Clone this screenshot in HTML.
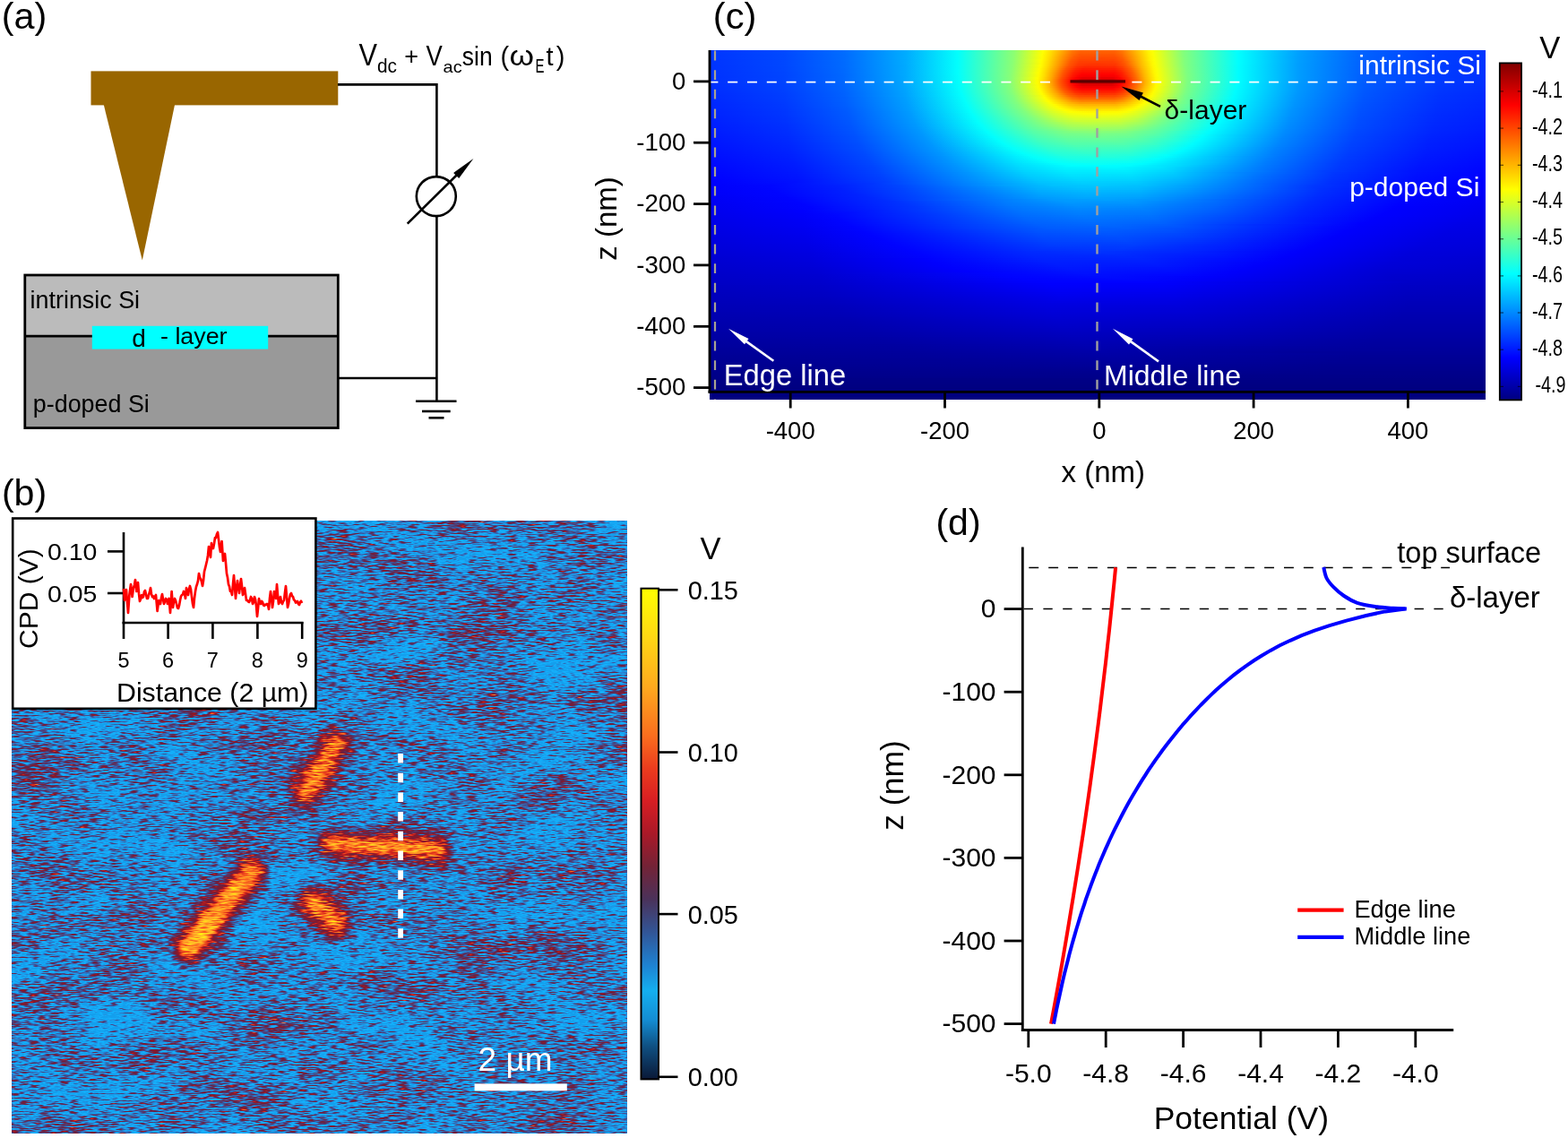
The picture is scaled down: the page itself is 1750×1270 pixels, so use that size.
<!DOCTYPE html>
<html><head><meta charset="utf-8"><title>Figure</title>
<style>
html,body{margin:0;padding:0;background:#fff}
body{width:1750px;height:1270px;position:relative;overflow:hidden;font-family:"Liberation Sans",Arial,sans-serif}
#hm{position:absolute;left:792px;top:56px;width:866px;height:390px}
#hm div{width:100%}
svg{position:absolute;left:0;top:0}
text{font-family:"Liberation Sans",Arial,sans-serif}
</style></head><body>
<div id="hm"><div style="height:2px;background:linear-gradient(90deg,#0036ff 0px,#0049ff 83px,#006dff 151px,#00acff 219px,#03fffc 277px,#8cff73 340px,#ffff00 372px,#ffde00 381px,#ff7700 405px,#ff6400 414px,#ff6400 452px,#ff7900 461px,#fff400 490px,#fdff02 494px,#85ff7a 528px,#02fffd 589px,#009fff 658px,#0061ff 731px,#003fff 814px,#0036ff 865px)"></div><div style="height:2px;background:linear-gradient(90deg,#0036ff 0px,#0049ff 83px,#006dff 151px,#00acff 219px,#03fffc 277px,#8dff72 340px,#fffe00 372px,#ffda00 381px,#ff7000 405px,#ff5c00 414px,#ff5d00 452px,#ff7200 461px,#fff200 490px,#fbff04 495px,#83ff7c 529px,#02fffd 589px,#009fff 658px,#0061ff 731px,#003fff 814px,#0036ff 865px)"></div><div style="height:2px;background:linear-gradient(90deg,#0035ff 0px,#0048ff 83px,#006cff 151px,#00acff 219px,#03fffc 277px,#8eff71 340px,#feff01 371px,#ffe100 379px,#ff6d00 404px,#ff5600 413px,#ff5500 451px,#ff6800 460px,#ff9900 471px,#fff400 491px,#fcff03 495px,#83ff7c 529px,#00ffff 590px,#00a0ff 657px,#0061ff 731px,#003eff 814px,#0035ff 865px)"></div><div style="height:2px;background:linear-gradient(90deg,#0035ff 0px,#0048ff 83px,#006cff 151px,#00acff 219px,#03fffc 277px,#8bff74 339px,#fffe00 371px,#ffde00 379px,#ff8b00 396px,#ff5c00 407px,#ff4f00 415px,#ff5000 452px,#ff6200 460px,#ff9300 471px,#fff200 491px,#faff05 496px,#83ff7c 529px,#00ffff 590px,#00a0ff 656px,#0060ff 731px,#003eff 814px,#0035ff 865px)"></div><div style="height:2px;background:linear-gradient(90deg,#0035ff 0px,#0048ff 83px,#006bff 150px,#00acff 219px,#02fffd 277px,#8cff73 339px,#fffd00 371px,#ffdb00 379px,#ff9500 393px,#ff6000 404px,#ff4c00 412px,#ff4700 437px,#ff4b00 453px,#ff5e00 461px,#ff9900 473px,#fff400 492px,#fcff03 496px,#82ff7d 530px,#00ffff 590px,#00a0ff 656px,#0060ff 731px,#003eff 814px,#0035ff 865px)"></div><div style="height:2px;background:linear-gradient(90deg,#0034ff 0px,#0047ff 83px,#006bff 150px,#00abff 219px,#02fffd 277px,#8cff73 339px,#ffff00 370px,#ffe300 377px,#ff9600 392px,#ff5900 404px,#ff4500 413px,#ff4400 451px,#ff5800 461px,#ff9400 473px,#fff000 491px,#fdff02 496px,#82ff7d 530px,#00ffff 590px,#009fff 657px,#0060ff 731px,#003dff 814px,#0034ff 865px)"></div><div style="height:2px;background:linear-gradient(90deg,#0034ff 0px,#0047ff 83px,#006aff 150px,#00abff 219px,#02fffd 277px,#89ff76 338px,#fffe00 370px,#ffdb00 378px,#ff9700 391px,#ff5700 403px,#ff3f00 413px,#ff3d00 450px,#ff4d00 459px,#ff6800 466px,#ffbb00 481px,#fff500 493px,#fbff04 497px,#82ff7d 530px,#00ffff 590px,#009fff 657px,#005fff 731px,#003dff 814px,#0034ff 865px)"></div><div style="height:2px;background:linear-gradient(90deg,#0034ff 0px,#0047ff 83px,#006aff 150px,#00aaff 218px,#02fffd 277px,#8aff75 338px,#fffc00 370px,#ffde00 377px,#ff9900 390px,#ff5600 402px,#ff3b00 412px,#ff3600 431px,#ff3a00 453px,#ff5500 463px,#ff9000 474px,#ffbd00 482px,#fff700 494px,#fcff03 497px,#82ff7d 530px,#00ffff 590px,#009eff 657px,#005fff 731px,#003dff 814px,#0034ff 865px)"></div><div style="height:2px;background:linear-gradient(90deg,#0033ff 0px,#0047ff 83px,#006aff 150px,#00a9ff 218px,#02fffd 277px,#8bff74 338px,#ffff00 369px,#ffe100 376px,#ff9a00 389px,#ff5500 401px,#ff3700 411px,#ff3000 422px,#ff3300 452px,#ff4c00 462px,#ff6d00 469px,#ffba00 482px,#fff600 494px,#f9ff06 498px,#80ff7f 531px,#00feff 590px,#009eff 657px,#005fff 731px,#003cff 814px,#0033ff 865px)"></div><div style="height:2px;background:linear-gradient(90deg,#0033ff 0px,#0046ff 83px,#006aff 150px,#00a9ff 218px,#02fffd 277px,#88ff77 337px,#fffd00 369px,#ffdd00 376px,#ff9900 388px,#ff5500 399px,#ff2e00 410px,#ff2500 419px,#ff2800 452px,#ff3f00 461px,#ff6300 469px,#ffb500 482px,#fff700 495px,#fbff04 498px,#81ff7e 531px,#00feff 590px,#009eff 657px,#005eff 731px,#003cff 814px,#0033ff 865px)"></div><div style="height:2px;background:linear-gradient(90deg,#0033ff 0px,#0046ff 83px,#0069ff 150px,#00a9ff 218px,#02fffd 277px,#89ff76 337px,#fffe00 368px,#ffde00 375px,#ffa000 386px,#ff5200 398px,#ff2700 409px,#ff1b00 417px,#ff1e00 452px,#ff3600 461px,#ff6000 470px,#ffb600 483px,#fff500 495px,#faff05 499px,#7fff80 532px,#00feff 590px,#009eff 657px,#005eff 731px,#003cff 814px,#0033ff 865px)"></div><div style="height:2px;background:linear-gradient(90deg,#0032ff 0px,#0046ff 83px,#0069ff 150px,#00a9ff 218px,#02fffd 277px,#8aff75 337px,#fffd00 368px,#ffe000 374px,#ffa100 385px,#ff5500 396px,#ff2000 408px,#ff1200 416px,#ff1500 452px,#ff2600 459px,#ff5f00 471px,#ffb700 484px,#fff700 496px,#fbff04 499px,#7fff80 532px,#00feff 590px,#009dff 657px,#005eff 731px,#003bff 814px,#0032ff 865px)"></div><div style="height:2px;background:linear-gradient(90deg,#0032ff 0px,#0045ff 83px,#0069ff 150px,#00a9ff 218px,#02fffd 277px,#87ff78 336px,#ffff00 367px,#ffdd00 374px,#ff9b00 385px,#ff5500 395px,#ff1b00 407px,#ff0a00 416px,#ff0c00 452px,#ff2100 460px,#ff5e00 472px,#ffb400 484px,#fff600 496px,#f9ff06 500px,#7fff80 532px,#00feff 590px,#009dff 657px,#005eff 731px,#003bff 814px,#0032ff 865px)"></div><div style="height:2px;background:linear-gradient(90deg,#0032ff 0px,#0045ff 83px,#0068ff 150px,#00a9ff 218px,#02fffd 277px,#88ff77 336px,#fffd00 367px,#ffe100 373px,#ff9e00 384px,#ff5500 394px,#ff1800 406px,#ff0200 415px,#ff0300 451px,#ff1a00 460px,#ff5f00 473px,#ffb600 485px,#fff800 497px,#faff05 500px,#80ff7f 532px,#00feff 590px,#009dff 657px,#005dff 731px,#003bff 814px,#0032ff 865px)"></div><div style="height:2px;background:linear-gradient(90deg,#0031ff 0px,#0044ff 82px,#0067ff 149px,#00a7ff 217px,#03fffc 278px,#89ff76 336px,#fffc00 367px,#ffd900 374px,#ffa100 383px,#ff5000 394px,#ff1600 405px,#fe0000 412px,#f70000 420px,#f90000 451px,#ff0300 455px,#ff2600 464px,#ff6800 475px,#ffb300 485px,#fff700 497px,#fbff04 500px,#7eff81 533px,#00feff 590px,#009dff 657px,#005dff 731px,#003aff 814px,#0031ff 865px)"></div><div style="height:2px;background:linear-gradient(90deg,#0031ff 0px,#0044ff 82px,#0067ff 149px,#00a7ff 217px,#03fffc 278px,#85ff7a 335px,#ffff00 366px,#ffe100 372px,#ffa400 382px,#ff5000 393px,#ff1200 404px,#fc0000 409px,#e80000 416px,#e90000 450px,#ff0300 458px,#ff2f00 467px,#ff6900 476px,#ffb600 486px,#fff900 498px,#f5ff0a 502px,#7eff81 533px,#00feff 590px,#009dff 657px,#005dff 731px,#003aff 814px,#0031ff 865px)"></div><div style="height:2px;background:linear-gradient(90deg,#0031ff 0px,#0044ff 82px,#0067ff 149px,#00a7ff 217px,#03fffc 278px,#86ff79 335px,#fffd00 366px,#ffd900 373px,#ffa700 381px,#ff5100 392px,#ff0f00 403px,#ff0100 406px,#d50000 415px,#d00000 425px,#d40000 450px,#fe0000 459px,#ff2f00 468px,#ff6b00 477px,#ffb300 486px,#fff800 498px,#faff05 501px,#7eff81 533px,#00feff 590px,#009cff 657px,#005cff 731px,#003aff 814px,#0031ff 865px)"></div><div style="height:2px;background:linear-gradient(90deg,#0030ff 0px,#0043ff 82px,#0066ff 149px,#00a6ff 217px,#03fffc 278px,#86ff79 335px,#fffd00 366px,#ffd800 373px,#ffa600 381px,#ff5000 392px,#ff0d00 403px,#fd0000 406px,#c00000 416px,#b90000 417px,#b80000 448px,#ff0100 460px,#ff3400 469px,#ff7200 478px,#ffb800 487px,#fff800 498px,#faff05 501px,#7eff81 533px,#00ffff 589px,#009cff 657px,#005cff 731px,#0039ff 814px,#0030ff 865px)"></div><div style="height:2px;background:linear-gradient(90deg,#0030ff 0px,#0043ff 82px,#0066ff 149px,#00a5ff 217px,#02fffd 278px,#85ff7a 335px,#fffe00 366px,#ffda00 373px,#ffa800 381px,#ff5200 392px,#ff1000 403px,#ff0100 406px,#cf0000 416px,#ce0000 449px,#fe0000 459px,#ff2f00 468px,#ff6c00 477px,#ffb900 487px,#fff900 498px,#f9ff06 501px,#7dff82 533px,#00feff 589px,#009bff 657px,#005bff 731px,#0039ff 814px,#0030ff 865px)"></div><div style="height:2px;background:linear-gradient(90deg,#002fff 0px,#0042ff 82px,#0065ff 149px,#00a5ff 217px,#03fffc 279px,#84ff7b 335px,#fffc00 367px,#ffb800 379px,#ff5000 393px,#ff1500 403px,#fd0000 408px,#e20000 415px,#e00000 449px,#f20000 455px,#ff0000 458px,#ff3400 468px,#ff7000 477px,#ffb600 486px,#fffa00 498px,#f4ff0b 502px,#7cff83 533px,#00fdff 589px,#009aff 657px,#005aff 731px,#0038ff 814px,#002fff 865px)"></div><div style="height:2px;background:linear-gradient(90deg,#002eff 0px,#0041ff 82px,#0064ff 149px,#00a4ff 217px,#02fffd 279px,#82ff7d 335px,#fffe00 367px,#ffce00 376px,#ffa100 383px,#ff5500 393px,#ff1800 404px,#ff0000 410px,#f10000 417px,#f30000 451px,#ff0200 456px,#ff2900 465px,#ff6e00 476px,#ffba00 486px,#fffd00 498px,#7bff84 533px,#00feff 588px,#0099ff 657px,#005aff 731px,#0037ff 814px,#002eff 865px)"></div><div style="height:2px;background:linear-gradient(90deg,#002dff 0px,#0041ff 83px,#0064ff 150px,#00a4ff 218px,#03fffc 280px,#84ff7b 336px,#fffd00 368px,#ffb600 381px,#ff5700 394px,#ff1d00 405px,#ff0400 414px,#ff0200 450px,#ff1500 458px,#ff3900 466px,#ff6f00 475px,#ffb900 485px,#fffc00 497px,#d7ff28 508px,#79ff86 533px,#00fdff 588px,#0099ff 657px,#0059ff 731px,#0036ff 814px,#002dff 865px)"></div><div style="height:2px;background:linear-gradient(90deg,#002dff 0px,#0040ff 83px,#0063ff 150px,#00a3ff 218px,#02fffd 280px,#82ff7d 336px,#fffd00 369px,#ffa900 384px,#ff5b00 395px,#ff2200 407px,#ff1100 416px,#ff1300 452px,#ff2800 460px,#ff6500 472px,#ffba00 484px,#fffb00 496px,#efff10 501px,#7aff85 532px,#00fdff 587px,#0098ff 657px,#0058ff 731px,#0036ff 814px,#002dff 865px)"></div><div style="height:2px;background:linear-gradient(90deg,#002cff 0px,#003fff 83px,#0062ff 150px,#00a2ff 218px,#03fffc 281px,#83ff7c 337px,#fffd00 370px,#ffa500 386px,#ff5c00 397px,#ff2e00 408px,#ff2000 416px,#ff2200 452px,#ff3b00 461px,#ff6b00 471px,#ffbc00 483px,#fffc00 495px,#e0ff1f 504px,#78ff87 532px,#00feff 586px,#0098ff 656px,#0057ff 731px,#0035ff 814px,#002cff 865px)"></div><div style="height:2px;background:linear-gradient(90deg,#002bff 0px,#003eff 83px,#0061ff 150px,#00a1ff 218px,#01fffe 281px,#83ff7c 338px,#fffe00 371px,#ffab00 387px,#ff6000 399px,#ff3a00 410px,#ff3100 419px,#ff3400 452px,#ff4b00 461px,#ff6f00 469px,#ffbf00 482px,#fffd00 494px,#78ff87 531px,#00fdff 586px,#0097ff 656px,#0056ff 731px,#0034ff 814px,#002bff 865px)"></div><div style="height:2px;background:linear-gradient(90deg,#002aff 0px,#003dff 83px,#0061ff 150px,#00a2ff 219px,#02fffd 282px,#80ff7f 338px,#fffc00 373px,#ffa500 390px,#ff6300 402px,#ff4800 412px,#ff4300 432px,#ff4800 453px,#ff6100 463px,#ffa900 476px,#fffe00 493px,#78ff87 530px,#00fdff 585px,#0097ff 655px,#0056ff 730px,#0033ff 813px,#002aff 865px)"></div><div style="height:2px;background:linear-gradient(90deg,#002aff 0px,#003dff 83px,#0060ff 151px,#00a0ff 219px,#02fffd 283px,#80ff7f 339px,#ffff00 374px,#ff9e00 394px,#ff6c00 405px,#ff5900 413px,#ff5800 451px,#ff6700 459px,#ff9700 470px,#ffd800 483px,#fffd00 491px,#76ff89 530px,#00feff 584px,#0097ff 654px,#0055ff 730px,#0033ff 813px,#002aff 865px)"></div><div style="height:2px;background:linear-gradient(90deg,#0029ff 0px,#003cff 83px,#0060ff 151px,#009fff 219px,#03fffc 284px,#80ff7f 340px,#fffe00 376px,#ff8100 405px,#ff6e00 414px,#ff6e00 452px,#ff8300 461px,#fffd00 489px,#85ff7a 524px,#68ff97 535px,#00fcff 584px,#0095ff 655px,#0054ff 730px,#0032ff 813px,#0029ff 865px)"></div><div style="height:2px;background:linear-gradient(90deg,#0028ff 0px,#003bff 83px,#005fff 151px,#009fff 220px,#03fffc 285px,#7fff80 341px,#ffff00 378px,#ff9700 405px,#ff8400 415px,#ff8600 452px,#ff9c00 462px,#fff300 484px,#fdff02 488px,#75ff8a 528px,#00fcff 583px,#0095ff 654px,#0054ff 730px,#0031ff 813px,#0028ff 865px)"></div><div style="height:2px;background:linear-gradient(90deg,#0027ff 0px,#003aff 83px,#005eff 151px,#009eff 220px,#03fffc 286px,#81ff7e 343px,#fdff02 380px,#ffe700 387px,#ffb500 402px,#ff9d00 413px,#ff9d00 452px,#ffb700 464px,#ffe900 479px,#ffff00 485px,#7fff80 523px,#00fcff 582px,#0095ff 653px,#0053ff 729px,#0030ff 813px,#0027ff 865px)"></div><div style="height:2px;background:linear-gradient(90deg,#0026ff 0px,#0039ff 83px,#005eff 152px,#009eff 221px,#03fffc 287px,#7fff80 344px,#f5ff0a 380px,#fffb00 385px,#ffc500 402px,#ffb300 414px,#ffb400 453px,#ffcc00 466px,#ffff00 482px,#99ff66 514px,#75ff8a 525px,#00fcff 581px,#0094ff 653px,#0052ff 729px,#002fff 813px,#0026ff 865px)"></div><div style="height:2px;background:linear-gradient(90deg,#0026ff 0px,#0039ff 84px,#005dff 152px,#009dff 221px,#03fffc 288px,#81ff7e 346px,#edff12 380px,#fffc00 388px,#ffcf00 405px,#ffc300 418px,#ffc600 454px,#ffde00 467px,#feff01 479px,#abff54 507px,#74ff8b 524px,#00fcff 580px,#0094ff 652px,#0052ff 728px,#002fff 812px,#0026ff 865px)"></div><div style="height:2px;background:linear-gradient(90deg,#0025ff 0px,#0038ff 84px,#005cff 153px,#009dff 222px,#03fffc 289px,#81ff7e 348px,#e4ff1b 380px,#fffd00 392px,#ffda00 409px,#ffd400 428px,#ffd800 455px,#fff300 469px,#fbff04 476px,#b4ff4b 502px,#75ff8a 522px,#00fcff 579px,#0092ff 652px,#0051ff 728px,#002eff 812px,#0025ff 865px)"></div><div style="height:2px;background:linear-gradient(90deg,#0024ff 0px,#0037ff 84px,#005bff 153px,#009dff 223px,#02fffd 290px,#7eff81 349px,#dbff24 380px,#fffe00 397px,#ffe700 414px,#ffe900 454px,#fdff02 470px,#caff35 492px,#73ff8c 521px,#00feff 577px,#0093ff 650px,#0051ff 727px,#002eff 811px,#0024ff 865px)"></div><div style="height:2px;background:linear-gradient(90deg,#0023ff 0px,#0036ff 84px,#005aff 153px,#009bff 223px,#02fffd 291px,#81ff7e 352px,#d7ff28 382px,#fdff02 402px,#fff600 425px,#fffb00 457px,#f9ff06 466px,#ceff31 487px,#73ff8c 519px,#00fdff 576px,#0092ff 650px,#0050ff 727px,#002dff 811px,#0023ff 865px)"></div><div style="height:2px;background:linear-gradient(90deg,#0023ff 0px,#0036ff 84px,#005aff 154px,#009bff 224px,#03fffc 293px,#81ff7e 354px,#ceff31 382px,#f2ff0d 402px,#fcff03 420px,#f8ff07 457px,#deff21 476px,#a0ff5f 501px,#73ff8c 517px,#00fdff 575px,#0092ff 649px,#004fff 727px,#002cff 811px,#0023ff 865px)"></div><div style="height:2px;background:linear-gradient(90deg,#0022ff 0px,#0035ff 84px,#0059ff 154px,#009bff 225px,#02fffd 294px,#82ff7d 357px,#c9ff36 384px,#e9ff16 404px,#f1ff0e 424px,#ecff13 458px,#d2ff2d 477px,#95ff6a 502px,#72ff8d 515px,#00fcff 574px,#0091ff 649px,#004fff 726px,#002bff 810px,#0022ff 865px)"></div><div style="height:2px;background:linear-gradient(90deg,#0021ff 0px,#0034ff 85px,#0059ff 155px,#009bff 226px,#01fffe 295px,#80ff7f 359px,#c1ff3e 385px,#dfff20 405px,#e5ff1a 429px,#e0ff1f 459px,#c4ff3b 479px,#84ff7b 505px,#69ff96 518px,#00fdff 572px,#0090ff 648px,#004eff 726px,#002bff 810px,#0021ff 865px)"></div><div style="height:2px;background:linear-gradient(90deg,#0020ff 0px,#0033ff 85px,#0058ff 155px,#009aff 227px,#02fffd 297px,#83ff7c 363px,#bcff43 388px,#d6ff29 408px,#d8ff27 452px,#c7ff38 471px,#99ff66 494px,#72ff8d 510px,#00fcff 571px,#008fff 648px,#004dff 726px,#002aff 810px,#0020ff 865px)"></div><div style="height:2px;background:linear-gradient(90deg,#0020ff 0px,#0033ff 85px,#0057ff 156px,#009aff 228px,#03fffc 299px,#75ff8a 360px,#b5ff4a 390px,#ccff33 410px,#cbff34 456px,#b4ff4b 476px,#7eff81 501px,#00fdff 569px,#008fff 647px,#004cff 725px,#0029ff 810px,#0020ff 865px)"></div><div style="height:2px;background:linear-gradient(90deg,#001fff 0px,#0032ff 85px,#0057ff 157px,#009aff 229px,#02fffd 300px,#70ff8f 360px,#90ff6f 376px,#b7ff48 399px,#c2ff3d 419px,#bfff40 458px,#a5ff5a 479px,#6fff90 506px,#00feff 567px,#008eff 646px,#004cff 724px,#0028ff 809px,#001fff 865px)"></div><div style="height:2px;background:linear-gradient(90deg,#001eff 0px,#0031ff 86px,#0056ff 157px,#0099ff 230px,#02fffd 302px,#6bff94 360px,#89ff76 377px,#adff52 400px,#b7ff48 421px,#b3ff4c 459px,#99ff66 480px,#6eff91 503px,#0dfff2 558px,#00fcff 566px,#008dff 646px,#004bff 724px,#0028ff 809px,#001eff 865px)"></div><div style="height:2px;background:linear-gradient(90deg,#001dff 0px,#0030ff 86px,#0055ff 158px,#0099ff 231px,#03fffc 304px,#66ff99 360px,#8aff75 383px,#a7ff58 405px,#acff53 437px,#a5ff5a 462px,#87ff78 484px,#22ffdd 545px,#00fdff 564px,#008cff 645px,#004bff 723px,#0027ff 808px,#001dff 865px)"></div><div style="height:2px;background:linear-gradient(90deg,#001cff 0px,#002fff 86px,#0055ff 159px,#0098ff 232px,#03fffc 306px,#60ff9f 360px,#9aff65 403px,#a0ff5f 429px,#9cff63 460px,#81ff7e 482px,#38ffc7 530px,#00fdff 562px,#008cff 644px,#004aff 723px,#0026ff 808px,#001dff 865px)"></div><div style="height:2px;background:linear-gradient(90deg,#001cff 0px,#002eff 86px,#0054ff 159px,#0097ff 233px,#03fffc 308px,#5cffa3 361px,#91ff6e 406px,#94ff6b 450px,#85ff7a 472px,#48ffb7 518px,#00fdff 560px,#008bff 643px,#0049ff 722px,#0026ff 807px,#001cff 865px)"></div><div style="height:2px;background:linear-gradient(90deg,#001bff 0px,#002eff 87px,#0053ff 160px,#0098ff 235px,#02fffd 310px,#58ffa7 362px,#82ff7d 402px,#89ff76 428px,#84ff7b 461px,#5affa5 502px,#08fff7 552px,#00fbff 559px,#008aff 643px,#0048ff 722px,#0025ff 807px,#001bff 865px)"></div><div style="height:2px;background:linear-gradient(90deg,#001aff 0px,#002dff 87px,#0053ff 161px,#0097ff 236px,#02fffd 312px,#53ffac 362px,#75ff8a 395px,#7eff81 427px,#78ff87 464px,#5cffa3 496px,#18ffe7 541px,#00fcff 556px,#0089ff 642px,#0047ff 721px,#0024ff 807px,#001aff 865px)"></div><div style="height:2px;background:linear-gradient(90deg,#0019ff 0px,#002cff 87px,#0052ff 162px,#0097ff 238px,#03fffc 315px,#4fffb0 364px,#6fff90 397px,#76ff89 432px,#6fff90 468px,#50ffaf 501px,#03fffc 550px,#00d8ff 579px,#0086ff 643px,#0046ff 721px,#0023ff 806px,#0019ff 865px)"></div><div style="height:2px;background:linear-gradient(90deg,#0018ff 0px,#002bff 88px,#0051ff 163px,#0096ff 239px,#01fffe 317px,#4bffb4 365px,#69ff96 398px,#6fff90 436px,#68ff97 470px,#46ffb9 504px,#00fcff 551px,#0087ff 640px,#0045ff 720px,#0022ff 806px,#0018ff 865px)"></div><div style="height:2px;background:linear-gradient(90deg,#0017ff 0px,#002aff 88px,#0051ff 164px,#0097ff 241px,#02fffd 320px,#46ffb9 366px,#63ff9c 400px,#68ff97 446px,#5cffa3 477px,#33ffcc 514px,#00fdff 548px,#0086ff 639px,#0045ff 719px,#0021ff 805px,#0017ff 865px)"></div><div style="height:2px;background:linear-gradient(90deg,#0016ff 0px,#0029ff 88px,#004fff 164px,#0095ff 242px,#02fffd 323px,#42ffbd 368px,#5dffa2 401px,#61ff9e 452px,#50ffaf 484px,#21ffde 523px,#00fdff 545px,#0086ff 638px,#0044ff 718px,#0020ff 804px,#0016ff 865px)"></div><div style="height:2px;background:linear-gradient(90deg,#0015ff 0px,#0028ff 89px,#004fff 166px,#0095ff 244px,#02fffd 326px,#3effc1 370px,#57ffa8 403px,#59ffa6 458px,#43ffbc 491px,#0cfff3 533px,#00fbff 543px,#0085ff 637px,#0043ff 717px,#001fff 804px,#0015ff 865px)"></div><div style="height:2px;background:linear-gradient(90deg,#0014ff 0px,#0027ff 89px,#004dff 166px,#0095ff 246px,#02fffd 329px,#3affc5 372px,#52ffad 406px,#51ffae 462px,#38ffc7 496px,#00fdff 539px,#0085ff 635px,#0042ff 716px,#001eff 803px,#0014ff 865px)"></div><div style="height:2px;background:linear-gradient(90deg,#0013ff 0px,#0026ff 90px,#004dff 168px,#0095ff 248px,#03fffc 333px,#37ffc8 375px,#4cffb3 409px,#49ffb6 464px,#2effd1 499px,#00fcff 536px,#0084ff 634px,#0042ff 715px,#001eff 802px,#0013ff 865px)"></div><div style="height:2px;background:linear-gradient(90deg,#0012ff 0px,#0025ff 90px,#004dff 169px,#0095ff 250px,#03fffc 337px,#33ffcc 378px,#45ffba 412px,#42ffbd 465px,#27ffd8 500px,#00fdff 532px,#0082ff 633px,#0040ff 715px,#001dff 802px,#0012ff 865px)"></div><div style="height:2px;background:linear-gradient(90deg,#0011ff 0px,#0024ff 90px,#004cff 170px,#0095ff 252px,#02fffd 340px,#2fffd0 381px,#3fffc0 415px,#3bffc4 466px,#1fffe0 502px,#00fcff 529px,#0081ff 632px,#0040ff 714px,#001cff 801px,#0011ff 865px)"></div><div style="height:2px;background:linear-gradient(90deg,#0010ff 0px,#0023ff 91px,#004bff 171px,#0095ff 254px,#03fffc 345px,#2cffd3 385px,#38ffc7 419px,#34ffcb 467px,#18ffe7 503px,#00fcff 525px,#0080ff 631px,#003fff 713px,#001bff 800px,#0010ff 865px)"></div><div style="height:2px;background:linear-gradient(90deg,#000fff 0px,#0022ff 91px,#004aff 172px,#0094ff 256px,#02fffd 349px,#27ffd8 388px,#32ffcd 423px,#2cffd3 468px,#0ffff0 505px,#00fbff 521px,#007fff 630px,#003eff 712px,#001aff 800px,#000fff 865px)"></div><div style="height:2px;background:linear-gradient(90deg,#000eff 0px,#0021ff 92px,#0049ff 173px,#0094ff 258px,#00f2ff 341px,#03fffc 355px,#24ffdb 393px,#2bffd4 432px,#24ffdb 472px,#04fffb 510px,#00edff 529px,#007eff 629px,#003dff 711px,#0019ff 799px,#000eff 865px)"></div><div style="height:2px;background:linear-gradient(90deg,#000dff 0px,#0020ff 92px,#0048ff 174px,#0093ff 260px,#00eeff 342px,#04fffb 361px,#1fffe0 398px,#24ffdb 451px,#14ffeb 486px,#00fcff 511px,#009bff 599px,#0075ff 637px,#003bff 712px,#0018ff 799px,#000dff 865px)"></div><div style="height:2px;background:linear-gradient(90deg,#000cff 0px,#001fff 93px,#0048ff 176px,#0094ff 263px,#00ebff 343px,#03fffc 367px,#1bffe4 404px,#1affe5 463px,#02fffd 500px,#00baff 570px,#007eff 624px,#003cff 709px,#0017ff 797px,#000cff 865px)"></div><div style="height:2px;background:linear-gradient(90deg,#000bff 0px,#001eff 93px,#0047ff 177px,#0093ff 265px,#00e7ff 343px,#03fffc 374px,#15ffea 410px,#12ffed 466px,#00fcff 498px,#00b6ff 570px,#007dff 623px,#003bff 707px,#0017ff 796px,#000bff 865px)"></div><div style="height:2px;background:linear-gradient(90deg,#000aff 0px,#001dff 94px,#0047ff 179px,#0094ff 268px,#00e4ff 344px,#03fffc 382px,#0ffff0 418px,#0afff5 469px,#00fbff 492px,#00c0ff 558px,#007cff 621px,#003aff 706px,#0016ff 795px,#000aff 865px)"></div><div style="height:2px;background:linear-gradient(90deg,#0009ff 0px,#001cff 94px,#0046ff 180px,#0093ff 270px,#00e0ff 345px,#02fffd 393px,#09fff6 437px,#00fcff 482px,#00ccff 543px,#007cff 619px,#0039ff 705px,#0015ff 795px,#0009ff 865px)"></div><div style="height:2px;background:linear-gradient(90deg,#0008ff 0px,#001bff 95px,#0045ff 182px,#0093ff 273px,#00ddff 346px,#00feff 403px,#00fcff 469px,#00d8ff 525px,#0078ff 621px,#0039ff 704px,#0014ff 794px,#0008ff 865px)"></div><div style="height:2px;background:linear-gradient(90deg,#0007ff 0px,#001aff 95px,#0044ff 183px,#0093ff 276px,#00daff 348px,#00f5ff 397px,#00f9ff 454px,#00e4ff 504px,#00adff 565px,#007aff 616px,#0038ff 703px,#0013ff 793px,#0007ff 865px)"></div><div style="height:2px;background:linear-gradient(90deg,#0006ff 0px,#0019ff 96px,#0044ff 185px,#0093ff 279px,#00d7ff 349px,#00f0ff 397px,#00f2ff 463px,#00dbff 510px,#009fff 575px,#0075ff 619px,#0037ff 702px,#0012ff 792px,#0006ff 865px)"></div><div style="height:2px;background:linear-gradient(90deg,#0005ff 0px,#0018ff 96px,#0043ff 186px,#0093ff 282px,#00d4ff 351px,#00ecff 399px,#00ecff 466px,#00d4ff 514px,#0093ff 583px,#003fff 685px,#0014ff 781px,#0005ff 865px)"></div><div style="height:2px;background:linear-gradient(90deg,#0004ff 0px,#0017ff 97px,#0043ff 188px,#0093ff 286px,#00d1ff 353px,#00e8ff 401px,#00e7ff 468px,#00cdff 517px,#0089ff 589px,#0037ff 696px,#0011ff 789px,#0004ff 865px)"></div><div style="height:2px;background:linear-gradient(90deg,#0003ff 0px,#0016ff 98px,#0042ff 190px,#0093ff 289px,#00ceff 355px,#00e3ff 403px,#00e1ff 470px,#00c7ff 520px,#0071ff 616px,#0034ff 698px,#0010ff 789px,#0003ff 865px)"></div><div style="height:2px;background:linear-gradient(90deg,#0002ff 0px,#0015ff 98px,#0041ff 191px,#0093ff 293px,#00cbff 357px,#00dfff 405px,#00dcff 471px,#00c2ff 521px,#006eff 616px,#0034ff 696px,#000fff 788px,#0002ff 865px)"></div><div style="height:2px;background:linear-gradient(90deg,#0001ff 0px,#0014ff 99px,#0040ff 193px,#0094ff 297px,#00c8ff 360px,#00daff 408px,#00d7ff 473px,#00bbff 524px,#006dff 615px,#0033ff 695px,#000eff 787px,#0001ff 865px)"></div><div style="height:2px;background:linear-gradient(90deg,#0000ff 0px,#0012ff 99px,#0040ff 195px,#0095ff 302px,#00c6ff 364px,#00d6ff 412px,#00d2ff 475px,#00b4ff 527px,#006cff 612px,#0032ff 693px,#000dff 786px,#0000ff 865px)"></div><div style="height:2px;background:linear-gradient(90deg,#0000fe 0px,#0010ff 96px,#003eff 195px,#0096ff 307px,#00c3ff 367px,#00d1ff 415px,#00ccff 476px,#00afff 529px,#0068ff 615px,#0031ff 692px,#000cff 785px,#0000fe 865px)"></div><div style="height:2px;background:linear-gradient(90deg,#0000fd 0px,#000cff 84px,#0034ff 181px,#0094ff 310px,#00bfff 369px,#00cdff 418px,#00c7ff 478px,#00a8ff 532px,#0062ff 619px,#0030ff 691px,#000bff 784px,#0000fd 865px)"></div><div style="height:2px;background:linear-gradient(90deg,#0000fc 0px,#0007ff 70px,#0024ff 152px,#0045ff 211px,#00a0ff 328px,#00c1ff 383px,#00c8ff 437px,#00bfff 487px,#009aff 544px,#0038ff 673px,#000cff 776px,#0000fd 856px,#0000fc 865px)"></div><div style="height:2px;background:linear-gradient(90deg,#0000fb 0px,#0006ff 67px,#0020ff 146px,#0044ff 212px,#00b4ff 366px,#00c3ff 416px,#00bdff 478px,#009fff 533px,#0035ff 675px,#000bff 776px,#0000fd 849px,#0000fc 865px)"></div><div style="height:2px;background:linear-gradient(90deg,#0000fb 0px,#0005ff 68px,#001fff 147px,#0043ff 214px,#00b0ff 367px,#00beff 417px,#00b9ff 478px,#009aff 533px,#0030ff 682px,#0009ff 779px,#0000fc 844px,#0000fb 865px)"></div><div style="height:2px;background:linear-gradient(90deg,#0000fa 0px,#0004ff 71px,#001fff 151px,#0043ff 217px,#00acff 368px,#00b9ff 418px,#00b4ff 479px,#0095ff 535px,#002fff 681px,#0008ff 778px,#0000fc 838px,#0000fa 865px)"></div><div style="height:2px;background:linear-gradient(90deg,#0000f9 0px,#0004ff 75px,#0021ff 157px,#0044ff 221px,#00a8ff 369px,#00b4ff 420px,#00afff 480px,#0090ff 536px,#002eff 680px,#0007ff 777px,#0000fb 833px,#0000f9 865px)"></div><div style="height:2px;background:linear-gradient(90deg,#0000f8 0px,#0004ff 79px,#0022ff 164px,#0044ff 224px,#00a4ff 371px,#00afff 422px,#00a9ff 481px,#008aff 538px,#002dff 679px,#0006ff 776px,#0000fb 830px,#0000f8 865px)"></div><div style="height:2px;background:linear-gradient(90deg,#0000f6 0px,#0004ff 84px,#0025ff 173px,#0046ff 231px,#009eff 368px,#00abff 420px,#00a5ff 481px,#0085ff 539px,#002bff 679px,#0005ff 776px,#0000f9 831px,#0000f6 865px)"></div><div style="height:2px;background:linear-gradient(90deg,#0000f5 0px,#0003ff 88px,#0027ff 181px,#0049ff 238px,#0098ff 365px,#00a6ff 417px,#00a0ff 480px,#0074ff 562px,#002bff 675px,#0005ff 773px,#0000f8 831px,#0000f5 865px)"></div><div style="height:2px;background:linear-gradient(90deg,#0000f4 0px,#0003ff 93px,#002bff 192px,#0063ff 280px,#009aff 383px,#00a1ff 445px,#0094ff 498px,#0051ff 611px,#0029ff 676px,#0003ff 773px,#0000f4 865px)"></div><div style="height:2px;background:linear-gradient(90deg,#0000f3 0px,#0004ff 98px,#002fff 205px,#0081ff 338px,#009aff 399px,#0098ff 473px,#0071ff 557px,#0029ff 672px,#0003ff 771px,#0000f3 865px)"></div><div style="height:2px;background:linear-gradient(90deg,#0000f2 0px,#0003ff 102px,#0033ff 216px,#007cff 335px,#0095ff 403px,#0093ff 475px,#0068ff 567px,#0029ff 669px,#0002ff 769px,#0000f2 865px)"></div><div style="height:2px;background:linear-gradient(90deg,#0000f1 0px,#0003ff 107px,#0035ff 223px,#007aff 336px,#0091ff 407px,#008dff 478px,#0067ff 564px,#0028ff 668px,#0001ff 768px,#0000f1 865px)"></div><div style="height:2px;background:linear-gradient(90deg,#0000f0 0px,#0003ff 112px,#0036ff 229px,#0077ff 338px,#008dff 412px,#0088ff 480px,#0068ff 557px,#0027ff 666px,#0000ff 766px,#0000f0 865px)"></div><div style="height:2px;background:linear-gradient(90deg,#0000ef 0px,#0003ff 116px,#0038ff 235px,#0075ff 340px,#0088ff 410px,#0083ff 483px,#0066ff 556px,#0026ff 665px,#0000ff 763px,#0000ef 865px)"></div><div style="height:2px;background:linear-gradient(90deg,#0000ee 0px,#0000fe 104px,#001cff 182px,#0041ff 253px,#0075ff 348px,#0084ff 414px,#007eff 489px,#005eff 565px,#0025ff 662px,#0000fe 759px,#0000ee 863px,#0000ee 865px)"></div><div style="height:2px;background:linear-gradient(90deg,#0000ed 0px,#0000fd 104px,#000fff 157px,#003dff 251px,#0071ff 347px,#0080ff 414px,#007aff 490px,#005aff 567px,#0024ff 660px,#0000fe 755px,#0000ed 860px,#0000ed 865px)"></div><div style="height:2px;background:linear-gradient(90deg,#0000ec 0px,#0000fb 104px,#0008ff 143px,#003bff 253px,#006eff 348px,#007dff 415px,#0077ff 491px,#0055ff 569px,#0024ff 658px,#0000fe 751px,#0000ed 857px,#0000ec 865px)"></div><div style="height:2px;background:linear-gradient(90deg,#0000eb 0px,#0000fa 104px,#0006ff 141px,#003bff 257px,#006cff 350px,#0079ff 417px,#0073ff 492px,#0051ff 571px,#0022ff 658px,#0000fe 747px,#0000ec 854px,#0000eb 865px)"></div><div style="height:2px;background:linear-gradient(90deg,#0000ea 0px,#0000f9 104px,#0005ff 142px,#003bff 261px,#0069ff 353px,#0076ff 421px,#006fff 495px,#004bff 576px,#0020ff 657px,#0000fd 743px,#0000eb 852px,#0000ea 865px)"></div><div style="height:2px;background:linear-gradient(90deg,#0000e9 0px,#0000f7 104px,#0004ff 145px,#003bff 266px,#0067ff 356px,#0072ff 424px,#006bff 497px,#0047ff 579px,#001dff 660px,#0000fd 740px,#0000ea 849px,#0000e9 865px)"></div><div style="height:2px;background:linear-gradient(90deg,#0000e8 0px,#0000f6 105px,#0004ff 148px,#003bff 271px,#0064ff 359px,#006fff 428px,#0066ff 500px,#0041ff 585px,#0016ff 673px,#0000fd 736px,#0000e9 847px,#0000e8 865px)"></div><div style="height:2px;background:linear-gradient(90deg,#0000e7 0px,#0000f5 105px,#0004ff 152px,#003cff 277px,#0062ff 363px,#006bff 434px,#0062ff 504px,#003aff 592px,#0000fe 726px,#0000e8 840px,#0000e7 865px)"></div><div style="height:2px;background:linear-gradient(90deg,#0000e6 0px,#0000f4 105px,#0004ff 156px,#003cff 283px,#0060ff 367px,#0068ff 441px,#005cff 511px,#002fff 605px,#0000fd 725px,#0000e7 839px,#0000e6 865px)"></div><div style="height:2px;background:linear-gradient(90deg,#0000e5 0px,#0000f3 105px,#0003ff 160px,#003dff 290px,#005eff 372px,#0064ff 452px,#0055ff 523px,#0009ff 692px,#0000fb 726px,#0000e6 840px,#0000e5 865px)"></div><div style="height:2px;background:linear-gradient(90deg,#0000e4 0px,#0000f1 105px,#0003ff 164px,#003eff 298px,#005cff 379px,#005fff 465px,#004bff 539px,#000bff 682px,#0000fc 720px,#0000e5 836px,#0000e4 865px)"></div><div style="height:2px;background:linear-gradient(90deg,#0000e3 0px,#0000f0 105px,#0004ff 169px,#0055ff 366px,#005dff 442px,#0051ff 513px,#0000fd 710px,#0000e5 826px,#0000e3 865px)"></div><div style="height:2px;background:linear-gradient(90deg,#0000e2 0px,#0000ef 105px,#0003ff 173px,#0052ff 367px,#0059ff 445px,#004dff 517px,#0000fd 707px,#0000e4 824px,#0000e2 865px)"></div><div style="height:2px;background:linear-gradient(90deg,#0000e1 0px,#0000ee 106px,#0003ff 177px,#004fff 369px,#0056ff 450px,#0047ff 523px,#0000fd 703px,#0000e3 821px,#0000e1 865px)"></div><div style="height:2px;background:linear-gradient(90deg,#0000e0 0px,#0000ec 106px,#0003ff 182px,#004cff 370px,#0052ff 453px,#0043ff 527px,#0000fc 699px,#0000e3 818px,#0000e0 865px)"></div><div style="height:2px;background:linear-gradient(90deg,#0000df 0px,#0000eb 106px,#0003ff 186px,#0049ff 372px,#004eff 457px,#003eff 532px,#0000fc 695px,#0000e2 815px,#0000df 865px)"></div><div style="height:2px;background:linear-gradient(90deg,#0000de 0px,#0000ea 107px,#0003ff 191px,#0046ff 373px,#004bff 460px,#0038ff 537px,#0000fc 691px,#0000e1 812px,#0000de 865px)"></div><div style="height:2px;background:linear-gradient(90deg,#0000dd 0px,#0000e9 108px,#0003ff 196px,#0043ff 375px,#0047ff 464px,#0033ff 542px,#0000fc 686px,#0000e0 808px,#0000dd 865px)"></div><div style="height:2px;background:linear-gradient(90deg,#0000dc 0px,#0000e8 108px,#0003ff 201px,#0040ff 377px,#0043ff 468px,#002eff 548px,#0000fc 681px,#0000df 804px,#0000dc 865px)"></div><div style="height:2px;background:linear-gradient(90deg,#0000db 0px,#0000e6 109px,#0003ff 205px,#003dff 379px,#003fff 473px,#0021ff 579px,#0000fc 677px,#0000df 801px,#0000db 865px)"></div><div style="height:2px;background:linear-gradient(90deg,#0000da 0px,#0000e5 110px,#0003ff 211px,#0039ff 377px,#003bff 470px,#001eff 581px,#0000fc 672px,#0000de 798px,#0000da 865px)"></div><div style="height:2px;background:linear-gradient(90deg,#0000d9 0px,#0000e4 110px,#0003ff 216px,#0034ff 372px,#0039ff 463px,#0020ff 567px,#0000fc 667px,#0000dd 794px,#0000d9 865px)"></div><div style="height:2px;background:linear-gradient(90deg,#0000d8 0px,#0000e3 111px,#0003ff 221px,#0030ff 367px,#0036ff 455px,#0022ff 553px,#0000fc 661px,#0000dd 789px,#0000d8 865px)"></div><div style="height:2px;background:linear-gradient(90deg,#0000d7 0px,#0000e2 111px,#0003ff 227px,#002aff 358px,#0032ff 439px,#0026ff 525px,#0000fc 656px,#0000dc 785px,#0000d7 865px)"></div><div style="height:2px;background:linear-gradient(90deg,#0000d6 0px,#0000e0 112px,#0003ff 232px,#0028ff 359px,#002fff 449px,#001cff 558px,#0000fc 651px,#0000db 782px,#0000d6 865px)"></div><div style="height:2px;background:linear-gradient(90deg,#0000d5 0px,#0000df 113px,#0003ff 238px,#0026ff 362px,#002aff 463px,#0017ff 567px,#0000fc 646px,#0000db 779px,#0000d5 865px)"></div><div style="height:2px;background:linear-gradient(90deg,#0000d3 0px,#0000de 113px,#0003ff 244px,#0024ff 365px,#0027ff 474px,#0011ff 580px,#0000fc 640px,#0000da 774px,#0000d3 865px)"></div><div style="height:2px;background:linear-gradient(90deg,#0000d2 0px,#0000dd 114px,#0000fe 239px,#0022ff 368px,#0024ff 479px,#000cff 588px,#0000fb 636px,#0000d9 774px,#0000d2 865px)"></div><div style="height:2px;background:linear-gradient(90deg,#0000d1 0px,#0000dc 115px,#0000fe 244px,#0020ff 373px,#0020ff 487px,#0006ff 601px,#0000f9 637px,#0000d7 780px,#0000d1 865px)"></div><div style="height:2px;background:linear-gradient(90deg,#0000d0 0px,#0000da 115px,#0000fd 249px,#001eff 379px,#001dff 493px,#0000fc 621px,#0000d9 760px,#0000d0 865px)"></div><div style="height:2px;background:linear-gradient(90deg,#0000cf 0px,#0000d9 116px,#0000fd 254px,#001cff 386px,#001aff 499px,#0000fc 615px,#0000d8 757px,#0000cf 865px)"></div><div style="height:2px;background:linear-gradient(90deg,#0000ce 0px,#0000d8 117px,#0000fd 260px,#001aff 392px,#0017ff 504px,#0000fc 608px,#0000d7 754px,#0000ce 865px)"></div><div style="height:2px;background:linear-gradient(90deg,#0000cd 0px,#0000d6 117px,#0000fd 267px,#0018ff 397px,#0013ff 508px,#0000fc 601px,#0000d6 752px,#0000cd 865px)"></div><div style="height:2px;background:linear-gradient(90deg,#0000cc 0px,#0000d5 118px,#0000fd 275px,#0016ff 403px,#0010ff 513px,#0000fc 594px,#0000d4 752px,#0000cc 865px)"></div><div style="height:2px;background:linear-gradient(90deg,#0000cb 0px,#0000d4 119px,#0000fd 285px,#0013ff 407px,#000dff 516px,#0000fb 587px,#0000d3 753px,#0000cb 865px)"></div><div style="height:2px;background:linear-gradient(90deg,#0000ca 0px,#0000d3 119px,#0003ff 313px,#0011ff 417px,#0009ff 524px,#0000fb 580px,#0000d1 756px,#0000ca 865px)"></div><div style="height:2px;background:linear-gradient(90deg,#0000c9 0px,#0000d1 120px,#0003ff 323px,#000eff 427px,#0005ff 532px,#0000f9 579px,#0000ce 764px,#0000c9 865px)"></div><div style="height:2px;background:linear-gradient(90deg,#0000c8 0px,#0000d0 121px,#0003ff 334px,#000cff 440px,#0000fc 559px,#0000cd 762px,#0000c8 865px)"></div><div style="height:2px;background:linear-gradient(90deg,#0000c7 0px,#0000cf 121px,#0002ff 346px,#0009ff 458px,#0000fb 550px,#0000cc 764px,#0000c7 865px)"></div><div style="height:2px;background:linear-gradient(90deg,#0000c6 0px,#0000cd 122px,#0002ff 358px,#0005ff 476px,#0000fa 544px,#0000ca 766px,#0000c6 865px)"></div><div style="height:2px;background:linear-gradient(90deg,#0000c5 0px,#0000cc 123px,#0001ff 371px,#0001ff 494px,#0000e3 629px,#0000c7 789px,#0000c5 865px)"></div><div style="height:2px;background:linear-gradient(90deg,#0000c4 0px,#0000cb 124px,#0000fe 381px,#0000fb 511px,#0000c7 774px,#0000c4 865px)"></div><div style="height:2px;background:linear-gradient(90deg,#0000c2 0px,#0000c9 124px,#0000fc 383px,#0000f9 505px,#0000c5 776px,#0000c2 865px)"></div><div style="height:2px;background:linear-gradient(90deg,#0000c1 0px,#0000c8 124px,#0000fa 385px,#0000f7 507px,#0000c4 776px,#0000c1 865px)"></div><div style="height:2px;background:linear-gradient(90deg,#0000c0 0px,#0000c7 124px,#0000f7 386px,#0000f4 508px,#0000c3 777px,#0000c0 865px)"></div><div style="height:2px;background:linear-gradient(90deg,#0000bf 0px,#0000c5 124px,#0000f5 388px,#0000f1 510px,#0000c1 777px,#0000bf 865px)"></div><div style="height:2px;background:linear-gradient(90deg,#0000be 0px,#0000c4 125px,#0000f2 390px,#0000ee 513px,#0000c0 777px,#0000be 865px)"></div><div style="height:2px;background:linear-gradient(90deg,#0000bd 0px,#0000c3 125px,#0000f0 392px,#0000eb 515px,#0000bf 778px,#0000bd 865px)"></div><div style="height:2px;background:linear-gradient(90deg,#0000bc 0px,#0000c2 126px,#0000ed 394px,#0000e9 517px,#0000bd 778px,#0000bc 865px)"></div><div style="height:2px;background:linear-gradient(90deg,#0000bb 0px,#0000c0 127px,#0000ea 391px,#0000e6 516px,#0000bc 780px,#0000bb 865px)"></div><div style="height:2px;background:linear-gradient(90deg,#0000ba 0px,#0000bf 129px,#0000e8 387px,#0000e4 514px,#0000bb 781px,#0000ba 865px)"></div><div style="height:2px;background:linear-gradient(90deg,#0000b9 0px,#0000be 130px,#0000e5 382px,#0000e2 511px,#0000b9 784px,#0000b9 865px)"></div><div style="height:2px;background:linear-gradient(90deg,#0000b8 0px,#0000bd 132px,#0000e2 377px,#0000e0 513px,#0000b8 783px,#0000b8 865px)"></div><div style="height:2px;background:linear-gradient(90deg,#0000b7 0px,#0000bb 133px,#0000e0 377px,#0000dc 524px,#0000b7 781px,#0000b7 865px)"></div><div style="height:2px;background:linear-gradient(90deg,#0000b6 0px,#0000ba 135px,#0000de 378px,#0000da 526px,#0000b6 779px,#0000b6 865px)"></div><div style="height:2px;background:linear-gradient(90deg,#0000b5 0px,#0000b9 137px,#0000dc 379px,#0000d8 528px,#0000b5 778px,#0000b5 865px)"></div><div style="height:2px;background:linear-gradient(90deg,#0000b4 0px,#0000b8 139px,#0000da 381px,#0000d6 530px,#0000b4 776px,#0000b4 865px)"></div><div style="height:2px;background:linear-gradient(90deg,#0000b2 0px,#0000b7 142px,#0000d8 382px,#0000d4 532px,#0000b2 775px,#0000b2 865px)"></div><div style="height:2px;background:linear-gradient(90deg,#0000b1 0px,#0000b6 144px,#0000d6 383px,#0000d1 534px,#0000b1 774px,#0000b1 865px)"></div><div style="height:2px;background:linear-gradient(90deg,#0000b0 0px,#0000b5 147px,#0000d4 385px,#0000cf 536px,#0000b0 772px,#0000b0 865px)"></div><div style="height:2px;background:linear-gradient(90deg,#0000af 0px,#0000b3 150px,#0000d2 386px,#0000cd 538px,#0000af 771px,#0000af 865px)"></div><div style="height:2px;background:linear-gradient(90deg,#0000ae 0px,#0000b2 152px,#0000d0 388px,#0000cb 541px,#0000ae 769px,#0000ae 865px)"></div><div style="height:2px;background:linear-gradient(90deg,#0000ad 0px,#0000b1 155px,#0000ce 390px,#0000c8 544px,#0000ad 767px,#0000ad 865px)"></div><div style="height:2px;background:linear-gradient(90deg,#0000ac 0px,#0000b0 158px,#0000cc 391px,#0000c6 546px,#0000ac 766px,#0000ac 865px)"></div><div style="height:2px;background:linear-gradient(90deg,#0000ab 0px,#0000af 161px,#0000ca 393px,#0000c4 549px,#0000ab 764px,#0000ab 865px)"></div><div style="height:2px;background:linear-gradient(90deg,#0000aa 0px,#0000ae 165px,#0000c8 395px,#0000c2 551px,#0000aa 762px,#0000aa 865px)"></div><div style="height:2px;background:linear-gradient(90deg,#0000a9 0px,#0000ad 168px,#0000c6 397px,#0000bf 554px,#0000a9 760px,#0000a9 865px)"></div><div style="height:2px;background:linear-gradient(90deg,#0000a8 0px,#0000ac 172px,#0000c4 399px,#0000bd 557px,#0000a8 758px,#0000a8 865px)"></div><div style="height:2px;background:linear-gradient(90deg,#0000a6 0px,#0000aa 175px,#0000c1 401px,#0000ba 560px,#0000a6 756px,#0000a6 865px)"></div><div style="height:2px;background:linear-gradient(90deg,#0000a5 0px,#0000a9 179px,#0000bf 404px,#0000b8 564px,#0000a5 754px,#0000a5 865px)"></div><div style="height:2px;background:linear-gradient(90deg,#0000a4 0px,#0000a8 183px,#0000bd 406px,#0000b5 568px,#0000a4 751px,#0000a4 865px)"></div><div style="height:2px;background:linear-gradient(90deg,#0000a3 0px,#0000a6 187px,#0000bb 409px,#0000b3 572px,#0000a3 749px,#0000a3 865px)"></div><div style="height:2px;background:linear-gradient(90deg,#0000a1 0px,#0000a5 192px,#0000b9 412px,#0000b0 576px,#0000a1 746px,#0000a1 865px)"></div><div style="height:2px;background:linear-gradient(90deg,#0000a0 0px,#0000a4 196px,#0000b6 415px,#0000ad 581px,#0000a0 744px,#0000a0 865px)"></div><div style="height:2px;background:linear-gradient(90deg,#00009f 0px,#0000a3 201px,#0000b4 418px,#0000ab 589px,#00009f 741px,#00009f 865px)"></div><div style="height:2px;background:linear-gradient(90deg,#00009e 0px,#0000a1 205px,#0000b2 421px,#0000a8 601px,#00009e 740px,#00009e 865px)"></div><div style="height:2px;background:linear-gradient(90deg,#00009d 0px,#0000a0 210px,#0000b0 425px,#0000a4 615px,#00009d 741px,#00009d 865px)"></div><div style="height:2px;background:linear-gradient(90deg,#00009b 0px,#00009f 215px,#0000ae 429px,#0000a1 631px,#00009b 755px,#00009b 865px)"></div><div style="height:2px;background:linear-gradient(90deg,#00009a 0px,#00009e 221px,#0000ab 434px,#00009d 655px,#00009a 865px)"></div><div style="height:2px;background:linear-gradient(90deg,#000099 0px,#00009c 226px,#0000a9 439px,#000099 673px,#000099 865px)"></div><div style="height:2px;background:linear-gradient(90deg,#000098 0px,#00009b 232px,#0000a7 441px,#000098 728px,#000098 865px)"></div><div style="height:2px;background:linear-gradient(90deg,#000096 0px,#00009a 238px,#0000a5 444px,#000096 725px,#000096 865px)"></div><div style="height:2px;background:linear-gradient(90deg,#000095 0px,#000099 245px,#0000a3 451px,#000095 720px,#000095 865px)"></div><div style="height:2px;background:linear-gradient(90deg,#000094 0px,#000097 251px,#0000a1 457px,#000094 715px,#000094 865px)"></div><div style="height:2px;background:linear-gradient(90deg,#000093 0px,#000096 259px,#00009e 466px,#000093 710px,#000093 865px)"></div><div style="height:2px;background:linear-gradient(90deg,#000092 0px,#000095 266px,#00009c 474px,#000092 705px,#000092 865px)"></div><div style="height:2px;background:linear-gradient(90deg,#000090 0px,#000094 274px,#00009a 483px,#000090 701px,#000090 865px)"></div><div style="height:2px;background:linear-gradient(90deg,#00008f 0px,#000093 283px,#000098 494px,#00008f 698px,#00008f 865px)"></div><div style="height:2px;background:linear-gradient(90deg,#00008e 0px,#000091 292px,#000095 505px,#00008e 697px,#00008e 865px)"></div><div style="height:2px;background:linear-gradient(90deg,#00008d 0px,#000090 302px,#000093 518px,#00008d 702px,#00008d 865px)"></div><div style="height:2px;background:linear-gradient(90deg,#00008b 0px,#00008f 314px,#000090 534px,#00008b 737px,#00008b 865px)"></div><div style="height:2px;background:linear-gradient(90deg,#00008a 0px,#00008e 327px,#00008d 550px,#00008a 865px)"></div><div style="height:2px;background:linear-gradient(90deg,#000089 0px,#00008d 343px,#00008a 566px,#000089 865px)"></div><div style="height:2px;background:linear-gradient(90deg,#000088 0px,#00008b 366px,#000088 865px)"></div><div style="height:2px;background:linear-gradient(90deg,#000086 0px,#000088 544px,#000086 865px)"></div><div style="height:2px;background:linear-gradient(90deg,#000085 0px,#000085 550px,#000085 865px)"></div><div style="height:2px;background:linear-gradient(90deg,#000084 0px,#000084 865px)"></div><div style="height:2px;background:linear-gradient(90deg,#000083 0px,#000083 865px)"></div><div style="height:2px;background:linear-gradient(90deg,#000082 0px,#000082 865px)"></div><div style="height:2px;background:linear-gradient(90deg,#000081 0px,#000081 865px)"></div><div style="height:2px;background:linear-gradient(90deg,#000080 0px,#000080 865px)"></div><div style="height:2px;background:linear-gradient(90deg,#000080 0px,#000080 865px)"></div><div style="height:2px;background:linear-gradient(90deg,#000080 0px,#000080 865px)"></div><div style="height:2px;background:linear-gradient(90deg,#000080 0px,#000080 865px)"></div><div style="height:2px;background:linear-gradient(90deg,#000080 0px,#000080 865px)"></div><div style="height:2px;background:linear-gradient(90deg,#000080 0px,#000080 865px)"></div></div>
<svg width="1750" height="1270" viewBox="0 0 1750 1270">
<defs>
<linearGradient id="jet" x1="0" y1="0" x2="0" y2="1"><stop offset="0.000" stop-color="#800000"/><stop offset="0.125" stop-color="#ff0000"/><stop offset="0.375" stop-color="#ffff00"/><stop offset="0.625" stop-color="#00ffff"/><stop offset="0.875" stop-color="#0000ff"/><stop offset="1.000" stop-color="#000080"/></linearGradient>
<linearGradient id="bcm" x1="0" y1="0" x2="0" y2="1"><stop offset="0.000" stop-color="#ffff00"/><stop offset="0.100" stop-color="#ffd714"/><stop offset="0.200" stop-color="#ffaa1e"/><stop offset="0.300" stop-color="#fa6e1e"/><stop offset="0.367" stop-color="#eb3c1e"/><stop offset="0.433" stop-color="#d71e23"/><stop offset="0.500" stop-color="#aa1928"/><stop offset="0.567" stop-color="#732337"/><stop offset="0.633" stop-color="#4b325a"/><stop offset="0.700" stop-color="#325596"/><stop offset="0.767" stop-color="#1e82d2"/><stop offset="0.820" stop-color="#14aff0"/><stop offset="0.880" stop-color="#148cd2"/><stop offset="0.933" stop-color="#0f5082"/><stop offset="1.000" stop-color="#0a1937"/></linearGradient>
<filter id="tex" x="13" y="581" width="687" height="684" filterUnits="userSpaceOnUse" color-interpolation-filters="sRGB"><feTurbulence type="fractalNoise" baseFrequency="0.09 0.6" numOctaves="2" seed="7" result="n1"/><feColorMatrix in="n1" type="matrix" values="1 0 0 0 0 1 0 0 0 0 1 0 0 0 0 0 0 0 0 1" result="g1"/><feTurbulence type="fractalNoise" baseFrequency="0.012 0.025" numOctaves="3" seed="21" result="n2"/><feColorMatrix in="n2" type="matrix" values="1 0 0 0 0 1 0 0 0 0 1 0 0 0 0 0 0 0 0 1" result="g2"/><feComposite in="g1" in2="g2" operator="arithmetic" k1="0" k2="0.950" k3="0.380" k4="-0.490" result="bg"/><feColorMatrix in="bg" type="matrix" values="1 0 0 0 0 0 1 0 0 0 0 0 1 0 0 0 0 0 0 1" result="bg1"/><feComposite in="bg1" in2="SourceGraphic" operator="arithmetic" k1="-0.500" k2="1" k3="0.680" k4="0" result="v"/><feComponentTransfer in="v"><feFuncR type="table" tableValues="0.078 0.078 0.098 0.149 0.216 0.314 0.412 0.471 0.588 0.824 0.961 1.000 1.000 1.000 1.000 1.000"/><feFuncG type="table" tableValues="0.627 0.698 0.659 0.529 0.373 0.235 0.137 0.110 0.098 0.137 0.333 0.529 0.706 0.824 0.941 1.000"/><feFuncB type="table" tableValues="0.933 0.988 0.961 0.843 0.667 0.451 0.275 0.204 0.149 0.118 0.118 0.137 0.157 0.118 0.059 0.000"/><feFuncA type="linear" slope="0" intercept="1"/></feComponentTransfer></filter>
<filter id="bl" x="-50%" y="-50%" width="200%" height="200%"><feGaussianBlur stdDeviation="4.5"/></filter>
<filter id="b05" x="-20%" y="-200%" width="140%" height="500%"><feGaussianBlur stdDeviation="0.6"/></filter>
</defs>
<text x="1.8" y="31.7" font-size="40.0" textLength="50.5" lengthAdjust="spacingAndGlyphs">(a)</text>
<rect x="101.5" y="79.4" width="275.8" height="38" fill="#996600"/>
<polygon points="115.8,117 195,117 158.8,290.6" fill="#996600"/>
<polyline points="377,94.4 487.4,94.4 487.4,197" fill="none" stroke="#000" stroke-width="2.6"/>
<line x1="487.4" y1="241" x2="487.4" y2="448" stroke="#000" stroke-width="2.6"/>
<circle cx="486.8" cy="219.1" r="22" fill="none" stroke="#000" stroke-width="2.6"/>
<line x1="454.7" y1="249.6" x2="510.6" y2="194.5" stroke="#000" stroke-width="2.6"/><polygon points="528.4,177.0 512.2,199.0 506.1,192.9" fill="#000"/>
<line x1="378" y1="422" x2="487.4" y2="422" stroke="#000" stroke-width="2.6"/>
<line x1="464" y1="447.8" x2="509.5" y2="447.8" stroke="#000" stroke-width="2.6"/>
<line x1="471" y1="459" x2="502.7" y2="459" stroke="#000" stroke-width="2.6"/>
<line x1="478.5" y1="466.3" x2="495.5" y2="466.3" stroke="#000" stroke-width="2.6"/>
<rect x="27.8" y="307" width="349.5" height="70" fill="#bbbbbb"/>
<rect x="27.8" y="375" width="349.5" height="103" fill="#999999"/>
<line x1="27.8" y1="375.2" x2="377.3" y2="375.2" stroke="#000" stroke-width="2.7"/>
<rect x="27.8" y="307" width="349.5" height="170.6" fill="none" stroke="#000" stroke-width="2.8"/>
<rect x="102.8" y="363.8" width="196.4" height="25.8" fill="#00ffff"/>
<text x="33.6" y="344.4" font-size="27.0" textLength="122.5" lengthAdjust="spacingAndGlyphs">intrinsic Si</text>
<text x="36.8" y="460.3" font-size="27.0" textLength="130.0" lengthAdjust="spacingAndGlyphs">p-doped Si</text>
<text x="147.3" y="386.6" font-size="28.0">d</text>
<text x="179.0" y="384.0" font-size="26.5" textLength="74.5" lengthAdjust="spacingAndGlyphs">- layer</text>
<text x="400.4" y="73.0" font-size="34.5" textLength="20.5" lengthAdjust="spacingAndGlyphs">V</text>
<text x="421.0" y="80.8" font-size="22.5" textLength="22.0" lengthAdjust="spacingAndGlyphs">dc</text>
<text x="451.2" y="71.5" font-size="27.0">+</text>
<text x="475.6" y="73.0" font-size="30.5" textLength="18.3" lengthAdjust="spacingAndGlyphs">V</text>
<text x="494.6" y="80.5" font-size="19.0" textLength="21.0" lengthAdjust="spacingAndGlyphs">ac</text>
<text x="515.8" y="73.0" font-size="29.0" textLength="33.8" lengthAdjust="spacingAndGlyphs">sin</text>
<text x="558.6" y="73.0" font-size="29.0">(</text>
<text x="568.4" y="73.2" font-size="31.0" textLength="27.5" lengthAdjust="spacingAndGlyphs">ω</text>
<text x="597.6" y="80.9" font-size="22.0" textLength="10.0" lengthAdjust="spacingAndGlyphs">E</text>
<text x="609.6" y="73.0" font-size="29.0">t</text>
<text x="620.8" y="73.0" font-size="29.0">)</text>
<text x="1.9" y="564.0" font-size="40.0" textLength="50.3" lengthAdjust="spacingAndGlyphs">(b)</text>
<g filter="url(#tex)"><rect x="13" y="581" width="687" height="684" fill="#000"/><g filter="url(#bl)"><rect x="307.0" y="836.0" width="102.0" height="44.0" rx="22.0" fill="rgb(96,96,96)" transform="rotate(122.0 358.0 858.0)"/><rect x="353.5" y="925.5" width="154.0" height="39.0" rx="19.5" fill="rgb(96,96,96)" transform="rotate(4.0 430.5 945.0)"/><rect x="169.5" y="992.5" width="152.0" height="47.0" rx="23.5" fill="rgb(96,96,96)" transform="rotate(129.5 245.5 1016.0)"/><rect x="324.0" y="997.0" width="76.0" height="43.0" rx="21.5" fill="rgb(96,96,96)" transform="rotate(46.6 362.0 1018.5)"/><rect x="316.0" y="849.0" width="84.0" height="18.0" rx="9.0" fill="rgb(229,229,229)" transform="rotate(122.0 358.0 858.0)"/><rect x="362.5" y="938.5" width="136.0" height="13.0" rx="6.5" fill="rgb(255,255,255)" transform="rotate(4.0 430.5 945.0)"/><rect x="178.5" y="1005.5" width="134.0" height="21.0" rx="10.5" fill="rgb(255,255,255)" transform="rotate(129.5 245.5 1016.0)"/><rect x="333.0" y="1010.0" width="58.0" height="17.0" rx="8.5" fill="rgb(224,224,224)" transform="rotate(46.6 362.0 1018.5)"/></g></g>
<line x1="447.1" y1="841" x2="447.1" y2="1047" stroke="#fff" stroke-width="5.8" stroke-dasharray="10.5 11.2"/>
<rect x="529.6" y="1209.4" width="103.2" height="7.9" fill="#fff"/>
<text x="533.6" y="1195.0" font-size="37.0" textLength="83.0" lengthAdjust="spacingAndGlyphs" fill="#fff">2 µm</text>
<rect x="14.2" y="578.5" width="338.2" height="212.3" fill="#fff" stroke="#000" stroke-width="2.6"/>
<line x1="138" y1="594" x2="138" y2="696.3" stroke="#000" stroke-width="2.6"/>
<line x1="136.7" y1="695" x2="338.5" y2="695" stroke="#000" stroke-width="2.6"/>
<line x1="120" y1="615.4" x2="138" y2="615.4" stroke="#000" stroke-width="2.6"/>
<line x1="120" y1="662.0" x2="138" y2="662.0" stroke="#000" stroke-width="2.6"/>
<text x="53.0" y="625.0" font-size="26.0" textLength="55.4" lengthAdjust="spacingAndGlyphs">0.10</text>
<text x="53.0" y="672.2" font-size="26.0" textLength="55.4" lengthAdjust="spacingAndGlyphs">0.05</text>
<line x1="138.0" y1="694" x2="138.0" y2="713" stroke="#000" stroke-width="2.6"/>
<text x="138.0" y="745.0" font-size="23.5" text-anchor="middle">5</text>
<line x1="187.6" y1="694" x2="187.6" y2="713" stroke="#000" stroke-width="2.6"/>
<text x="187.6" y="745.0" font-size="23.5" text-anchor="middle">6</text>
<line x1="237.4" y1="694" x2="237.4" y2="713" stroke="#000" stroke-width="2.6"/>
<text x="237.4" y="745.0" font-size="23.5" text-anchor="middle">7</text>
<line x1="287.4" y1="694" x2="287.4" y2="713" stroke="#000" stroke-width="2.6"/>
<text x="287.4" y="745.0" font-size="23.5" text-anchor="middle">8</text>
<line x1="337.2" y1="694" x2="337.2" y2="713" stroke="#000" stroke-width="2.6"/>
<text x="337.2" y="745.0" font-size="23.5" text-anchor="middle">9</text>
<text x="130.0" y="783.0" font-size="30.3">Distance (2 µm)</text>
<text transform="translate(42.2,724) rotate(-90)" font-size="30">CPD (V)</text>
<polyline points="138.0,657.0 139.0,670.0 140.0,664.5 141.0,658.0 142.0,672.1 143.0,684.0 144.4,664.0 146.0,652.0 147.6,666.0 149.0,656.0 150.0,652.8 151.0,647.0 152.4,660.0 154.0,650.0 155.0,662.4 156.0,671.0 157.0,668.6 158.0,664.0 159.0,666.9 160.0,666.0 161.0,660.4 162.0,659.0 163.0,663.3 164.0,668.0 165.0,668.0 166.0,664.0 167.0,660.7 168.0,656.0 169.0,662.8 170.0,666.0 171.0,665.3 172.0,668.0 173.0,665.9 174.0,664.0 175.6,682.0 177.2,670.0 179.0,674.0 180.0,667.4 181.0,663.0 182.0,668.7 183.0,674.0 184.0,671.3 185.0,668.0 186.0,668.9 187.0,674.0 188.6,668.0 190.0,684.0 191.6,660.0 193.0,678.0 194.0,671.8 195.0,668.0 196.0,670.0 197.0,674.0 198.0,678.3 199.0,679.0 200.0,675.7 201.0,670.0 202.0,665.5 203.0,664.0 204.0,663.3 205.0,660.0 206.0,662.4 207.0,668.0 208.0,656.0 209.0,660.5 210.0,664.0 211.0,657.4 212.0,654.0 213.0,657.8 214.0,666.0 215.0,673.6 216.0,678.0 217.0,667.7 218.0,660.0 219.0,654.7 220.0,652.0 221.0,648.1 222.0,640.0 223.0,644.6 224.0,646.0 225.0,649.1 226.0,654.0 227.0,648.0 228.0,638.0 229.0,634.2 230.0,630.0 231.0,625.8 232.0,620.0 233.0,610.0 234.0,614.7 235.0,622.0 236.0,606.0 237.0,610.9 238.0,612.0 239.0,606.8 240.0,600.0 241.0,600.1 242.0,596.0 243.0,594.0 244.0,602.0 245.0,610.7 246.0,616.0 247.6,604.0 249.0,626.0 250.0,621.1 251.0,618.0 252.0,628.4 253.0,640.0 254.0,644.5 255.0,652.0 256.0,654.4 257.0,660.0 258.0,660.1 259.0,664.0 260.0,652.1 261.0,642.0 262.0,655.5 263.0,668.0 264.0,655.8 265.0,648.0 266.0,655.8 267.0,662.0 268.0,653.3 269.0,646.0 270.0,654.2 271.0,664.0 272.0,661.4 273.0,656.0 274.0,662.9 275.0,670.0 276.0,669.9 277.0,671.3 278.0,672.0 279.0,669.9 280.0,666.0 281.0,668.1 282.0,674.0 283.0,672.1 284.0,666.0 285.0,668.9 286.0,676.0 287.0,688.0 288.0,679.1 289.0,668.0 290.0,672.5 291.0,674.0 292.0,670.9 293.0,672.0 294.0,675.3 295.0,676.0 296.0,674.7 297.0,675.0 298.0,674.0 299.0,674.8 300.0,680.0 301.0,668.0 302.0,660.0 303.0,667.6 304.0,678.0 305.0,671.0 306.0,660.0 307.0,662.7 308.0,668.0 309.0,652.0 310.0,664.1 311.0,674.0 312.0,671.9 313.0,666.0 314.0,671.9 315.0,674.0 316.0,671.3 317.0,670.0 318.0,661.4 319.0,654.0 320.0,666.1 321.0,678.0 322.0,674.2 323.0,668.0 324.0,663.3 325.0,662.0 326.0,665.1 327.0,666.0 328.0,669.3 329.0,670.0 330.0,672.6 331.0,672.0 332.0,671.0 333.0,674.0 334.0,675.0 335.0,672.0 336.0,670.7 337.0,673.0" fill="none" stroke="#ff0000" stroke-width="2.7" stroke-linejoin="round"/>
<rect x="715.5" y="656.7" width="19.5" height="547.7" fill="url(#bcm)" stroke="#000" stroke-width="2"/>
<line x1="735" y1="658.3" x2="756.5" y2="658.3" stroke="#000" stroke-width="2.6"/>
<text x="767.7" y="668.8" font-size="29.5" textLength="56.2" lengthAdjust="spacingAndGlyphs">0.15</text>
<line x1="735" y1="839.5" x2="756.5" y2="839.5" stroke="#000" stroke-width="2.6"/>
<text x="767.7" y="850.0" font-size="29.5" textLength="56.2" lengthAdjust="spacingAndGlyphs">0.10</text>
<line x1="735" y1="1020.1" x2="756.5" y2="1020.1" stroke="#000" stroke-width="2.6"/>
<text x="767.7" y="1030.6" font-size="29.5" textLength="56.2" lengthAdjust="spacingAndGlyphs">0.05</text>
<line x1="735" y1="1201.8" x2="756.5" y2="1201.8" stroke="#000" stroke-width="2.6"/>
<text x="767.7" y="1212.3" font-size="29.5" textLength="56.2" lengthAdjust="spacingAndGlyphs">0.00</text>
<text x="781.6" y="623.8" font-size="34.5">V</text>
<text x="795.8" y="31.9" font-size="40.0" textLength="48.5" lengthAdjust="spacingAndGlyphs">(c)</text>
<line x1="798" y1="56.6" x2="798" y2="446" stroke="#a8a290" stroke-width="2.2" stroke-dasharray="10.8 10.8"/>
<line x1="1224.5" y1="56.6" x2="1224.5" y2="446" stroke="#a0a0a0" stroke-width="2.4" stroke-dasharray="10.8 10.8"/>
<line x1="790.4" y1="91.6" x2="1177" y2="91.6" stroke="#fff" stroke-width="1.8" stroke-dasharray="11 10.8"/>
<line x1="1263.4" y1="91.6" x2="1650" y2="91.6" stroke="#fff" stroke-width="1.8" stroke-dasharray="11 10.8"/>
<line x1="1194.5" y1="90.8" x2="1256" y2="90.8" stroke="#5a0000" stroke-width="3.2"/>
<line x1="792" y1="56" x2="792" y2="438.7" stroke="#000" stroke-width="2.8"/>
<line x1="790.6" y1="437.3" x2="1658" y2="437.3" stroke="#000" stroke-width="2.8"/>
<line x1="774" y1="90.9" x2="792" y2="90.9" stroke="#000" stroke-width="2.8"/>
<text x="765.3" y="99.5" font-size="27.5" text-anchor="end">0</text>
<line x1="774" y1="159.2" x2="792" y2="159.2" stroke="#000" stroke-width="2.8"/>
<text x="765.3" y="167.8" font-size="27.5" text-anchor="end">-100</text>
<line x1="774" y1="227.6" x2="792" y2="227.6" stroke="#000" stroke-width="2.8"/>
<text x="765.3" y="236.2" font-size="27.5" text-anchor="end">-200</text>
<line x1="774" y1="295.9" x2="792" y2="295.9" stroke="#000" stroke-width="2.8"/>
<text x="765.3" y="304.5" font-size="27.5" text-anchor="end">-300</text>
<line x1="774" y1="364.3" x2="792" y2="364.3" stroke="#000" stroke-width="2.8"/>
<text x="765.3" y="372.9" font-size="27.5" text-anchor="end">-400</text>
<line x1="774" y1="432.6" x2="792" y2="432.6" stroke="#000" stroke-width="2.8"/>
<text x="765.3" y="441.2" font-size="27.5" text-anchor="end">-500</text>
<line x1="882.2" y1="437" x2="882.2" y2="455.5" stroke="#000" stroke-width="2.8"/>
<text x="882.2" y="489.8" font-size="27.5" text-anchor="middle">-400</text>
<line x1="1054.5" y1="437" x2="1054.5" y2="455.5" stroke="#000" stroke-width="2.8"/>
<text x="1054.5" y="489.8" font-size="27.5" text-anchor="middle">-200</text>
<line x1="1226.8" y1="437" x2="1226.8" y2="455.5" stroke="#000" stroke-width="2.8"/>
<text x="1226.8" y="489.8" font-size="27.5" text-anchor="middle">0</text>
<line x1="1399.1" y1="437" x2="1399.1" y2="455.5" stroke="#000" stroke-width="2.8"/>
<text x="1399.1" y="489.8" font-size="27.5" text-anchor="middle">200</text>
<line x1="1571.4" y1="437" x2="1571.4" y2="455.5" stroke="#000" stroke-width="2.8"/>
<text x="1571.4" y="489.8" font-size="27.5" text-anchor="middle">400</text>
<text x="1184.6" y="537.6" font-size="33.0">x (nm)</text>
<text transform="translate(688.4,290.7) rotate(-90)" font-size="33">z (nm)</text>
<text x="1516.3" y="82.5" font-size="30.0" fill="#fff">intrinsic Si</text>
<text x="1506.2" y="219.2" font-size="30.0" fill="#fff">p-doped Si</text>
<text x="1299.6" y="132.6" font-size="30.0">δ-layer</text>
<line x1="1295.0" y1="118.9" x2="1271.9" y2="107.0" stroke="#000" stroke-width="2.6"/><polygon points="1251.5,96.4 1275.9,103.6 1271.5,112.1" fill="#000"/>
<text x="807.8" y="429.8" font-size="32.7" fill="#fff">Edge line</text>
<text x="1232.0" y="429.8" font-size="32.0" fill="#fff">Middle line</text>
<line x1="863.3" y1="402.7" x2="831.6" y2="380.1" stroke="#fff" stroke-width="2.6"/><polygon points="812.9,366.7 835.5,378.1 831.0,384.3" fill="#fff"/>
<line x1="1293.0" y1="403.4" x2="1260.6" y2="380.1" stroke="#fff" stroke-width="2.6"/><polygon points="1241.9,366.7 1264.4,378.2 1260.0,384.4" fill="#fff"/>
<rect x="1673.8" y="70.4" width="24.2" height="376" fill="url(#jet)"/>
<line x1="1673.8" y1="101.9" x2="1678" y2="101.9" stroke="#000" stroke-width="1.2" opacity="0.6"/>
<line x1="1693.8" y1="101.9" x2="1698" y2="101.9" stroke="#000" stroke-width="1.2" opacity="0.6"/>
<text x="1710.0" y="108.5" font-size="25.0" textLength="34.0" lengthAdjust="spacingAndGlyphs">-4.1</text>
<line x1="1673.8" y1="143.1" x2="1678" y2="143.1" stroke="#000" stroke-width="1.2" opacity="0.6"/>
<line x1="1693.8" y1="143.1" x2="1698" y2="143.1" stroke="#000" stroke-width="1.2" opacity="0.6"/>
<text x="1710.0" y="149.7" font-size="25.0" textLength="34.0" lengthAdjust="spacingAndGlyphs">-4.2</text>
<line x1="1673.8" y1="184.3" x2="1678" y2="184.3" stroke="#000" stroke-width="1.2" opacity="0.6"/>
<line x1="1693.8" y1="184.3" x2="1698" y2="184.3" stroke="#000" stroke-width="1.2" opacity="0.6"/>
<text x="1710.0" y="190.9" font-size="25.0" textLength="34.0" lengthAdjust="spacingAndGlyphs">-4.3</text>
<line x1="1673.8" y1="225.5" x2="1678" y2="225.5" stroke="#000" stroke-width="1.2" opacity="0.6"/>
<line x1="1693.8" y1="225.5" x2="1698" y2="225.5" stroke="#000" stroke-width="1.2" opacity="0.6"/>
<text x="1710.0" y="232.1" font-size="25.0" textLength="34.0" lengthAdjust="spacingAndGlyphs">-4.4</text>
<line x1="1673.8" y1="266.7" x2="1678" y2="266.7" stroke="#000" stroke-width="1.2" opacity="0.6"/>
<line x1="1693.8" y1="266.7" x2="1698" y2="266.7" stroke="#000" stroke-width="1.2" opacity="0.6"/>
<text x="1710.0" y="273.3" font-size="25.0" textLength="34.0" lengthAdjust="spacingAndGlyphs">-4.5</text>
<line x1="1673.8" y1="307.9" x2="1678" y2="307.9" stroke="#000" stroke-width="1.2" opacity="0.6"/>
<line x1="1693.8" y1="307.9" x2="1698" y2="307.9" stroke="#000" stroke-width="1.2" opacity="0.6"/>
<text x="1710.0" y="314.5" font-size="25.0" textLength="34.0" lengthAdjust="spacingAndGlyphs">-4.6</text>
<line x1="1673.8" y1="349.0" x2="1678" y2="349.0" stroke="#000" stroke-width="1.2" opacity="0.6"/>
<line x1="1693.8" y1="349.0" x2="1698" y2="349.0" stroke="#000" stroke-width="1.2" opacity="0.6"/>
<text x="1710.0" y="355.6" font-size="25.0" textLength="34.0" lengthAdjust="spacingAndGlyphs">-4.7</text>
<line x1="1673.8" y1="390.2" x2="1678" y2="390.2" stroke="#000" stroke-width="1.2" opacity="0.6"/>
<line x1="1693.8" y1="390.2" x2="1698" y2="390.2" stroke="#000" stroke-width="1.2" opacity="0.6"/>
<text x="1710.0" y="396.8" font-size="25.0" textLength="34.0" lengthAdjust="spacingAndGlyphs">-4.8</text>
<line x1="1673.8" y1="431.4" x2="1678" y2="431.4" stroke="#000" stroke-width="1.2" opacity="0.6"/>
<line x1="1693.8" y1="431.4" x2="1698" y2="431.4" stroke="#000" stroke-width="1.2" opacity="0.6"/>
<text x="1713.4" y="438.0" font-size="25.0" textLength="34.0" lengthAdjust="spacingAndGlyphs">-4.9</text>
<rect x="1673.8" y="70.4" width="24.2" height="376" fill="none" stroke="#000" stroke-width="1.8"/>
<text x="1718.2" y="65.0" font-size="34.5">V</text>
<text x="1044.4" y="596.9" font-size="40.0" textLength="50.2" lengthAdjust="spacingAndGlyphs">(d)</text>
<line x1="1148.3" y1="633.6" x2="1618" y2="633.6" stroke="#000" stroke-width="1.5" stroke-dasharray="10.9 11"/>
<line x1="1142.6" y1="679.4" x2="1612" y2="679.4" stroke="#000" stroke-width="1.5" stroke-dasharray="10.3 11.5"/>
<line x1="1141.3" y1="610.5" x2="1141.3" y2="1150.9" stroke="#000" stroke-width="2.8"/>
<line x1="1139.9" y1="1149.5" x2="1622.2" y2="1149.5" stroke="#000" stroke-width="2.8"/>
<line x1="1120.6" y1="679.6" x2="1141.3" y2="679.6" stroke="#000" stroke-width="2.8"/>
<text x="1111.5" y="689.3" font-size="30.0" text-anchor="end">0</text>
<line x1="1120.6" y1="772.2" x2="1141.3" y2="772.2" stroke="#000" stroke-width="2.8"/>
<text x="1111.5" y="781.9" font-size="30.0" text-anchor="end">-100</text>
<line x1="1120.6" y1="864.8" x2="1141.3" y2="864.8" stroke="#000" stroke-width="2.8"/>
<text x="1111.5" y="874.5" font-size="30.0" text-anchor="end">-200</text>
<line x1="1120.6" y1="957.4" x2="1141.3" y2="957.4" stroke="#000" stroke-width="2.8"/>
<text x="1111.5" y="967.1" font-size="30.0" text-anchor="end">-300</text>
<line x1="1120.6" y1="1050.0" x2="1141.3" y2="1050.0" stroke="#000" stroke-width="2.8"/>
<text x="1111.5" y="1059.7" font-size="30.0" text-anchor="end">-400</text>
<line x1="1120.6" y1="1142.6" x2="1141.3" y2="1142.6" stroke="#000" stroke-width="2.8"/>
<text x="1111.5" y="1152.3" font-size="30.0" text-anchor="end">-500</text>
<line x1="1147.8" y1="1149" x2="1147.8" y2="1169" stroke="#000" stroke-width="2.8"/>
<text x="1147.8" y="1207.5" font-size="30.0" text-anchor="middle">-5.0</text>
<line x1="1234.2" y1="1149" x2="1234.2" y2="1169" stroke="#000" stroke-width="2.8"/>
<text x="1234.2" y="1207.5" font-size="30.0" text-anchor="middle">-4.8</text>
<line x1="1320.6" y1="1149" x2="1320.6" y2="1169" stroke="#000" stroke-width="2.8"/>
<text x="1320.6" y="1207.5" font-size="30.0" text-anchor="middle">-4.6</text>
<line x1="1407.0" y1="1149" x2="1407.0" y2="1169" stroke="#000" stroke-width="2.8"/>
<text x="1407.0" y="1207.5" font-size="30.0" text-anchor="middle">-4.4</text>
<line x1="1493.4" y1="1149" x2="1493.4" y2="1169" stroke="#000" stroke-width="2.8"/>
<text x="1493.4" y="1207.5" font-size="30.0" text-anchor="middle">-4.2</text>
<line x1="1579.8" y1="1149" x2="1579.8" y2="1169" stroke="#000" stroke-width="2.8"/>
<text x="1579.8" y="1207.5" font-size="30.0" text-anchor="middle">-4.0</text>
<text x="1287.7" y="1259.9" font-size="35.5">Potential (V)</text>
<text transform="translate(1007.6,926.8) rotate(-90)" font-size="35.5">z (nm)</text>
<text x="1559.3" y="628.4" font-size="32.5">top surface</text>
<text x="1617.9" y="677.8" font-size="33.0">δ-layer</text>
<path d="M1173.0,1142.6 L1176.3,1125.0 L1179.5,1107.5 L1182.7,1089.9 L1185.8,1072.4 L1188.8,1054.8 L1191.8,1037.2 L1194.7,1019.7 L1197.6,1002.1 L1200.4,984.5 L1203.2,967.0 L1205.9,949.4 L1208.6,931.9 L1211.2,914.3 L1213.7,896.7 L1216.2,879.2 L1218.6,861.6 L1221.0,844.0 L1223.3,826.5 L1225.6,808.9 L1227.8,791.4 L1229.9,773.8 L1232.0,756.2 L1234.1,738.7 L1236.0,721.1 L1238.0,703.5 L1239.8,686.0 L1241.6,668.4 L1243.4,650.9 L1245.1,633.3" fill="none" stroke="#ff0000" stroke-width="4" stroke-linejoin="round"/>
<path d="M1477.3,633.1 C1477.8,635.1 1478.7,641.3 1480.5,645.0 C1482.3,648.7 1485.0,651.8 1488.3,655.1 C1491.5,658.4 1495.6,662.0 1500.0,665.0 C1504.4,668.0 1509.0,670.8 1514.8,672.8 C1520.6,674.8 1528.3,676.0 1535.0,677.0 C1541.7,678.0 1549.2,678.4 1555.0,678.8 C1560.8,679.2 1567.4,679.3 1569.9,679.4" fill="none" stroke="#0000ff" stroke-width="4" stroke-linejoin="round"/>
<path d="M1568.5,679.6 L1546.0,682.4 L1524.7,687.0 L1502.7,692.6 L1483.8,698.1 L1467.3,703.7 L1452.8,709.2 L1440.0,714.8 L1428.4,720.3 L1418.0,725.9 L1408.5,731.5 L1399.7,737.0 L1391.5,742.6 L1383.8,748.1 L1376.6,753.7 L1369.8,759.2 L1363.3,764.8 L1357.1,770.3 L1351.2,775.9 L1345.5,781.5 L1340.0,787.0 L1334.7,792.6 L1329.5,798.1 L1324.6,803.7 L1319.7,809.2 L1315.1,814.8 L1310.5,820.4 L1306.1,825.9 L1301.8,831.5 L1297.6,837.0 L1293.6,842.6 L1289.6,848.1 L1285.8,853.7 L1282.0,859.2 L1278.4,864.8 L1274.8,870.4 L1271.4,875.9 L1268.0,881.5 L1264.7,887.0 L1261.5,892.6 L1258.4,898.1 L1255.3,903.7 L1252.4,909.2 L1249.5,914.8 L1246.7,920.4 L1243.9,925.9 L1241.2,931.5 L1238.6,937.0 L1236.1,942.6 L1233.6,948.1 L1231.2,953.7 L1228.8,959.3 L1226.5,964.8 L1224.3,970.4 L1222.1,975.9 L1220.0,981.5 L1217.9,987.0 L1215.9,992.6 L1213.9,998.1 L1211.9,1003.7 L1210.1,1009.3 L1208.2,1014.8 L1206.4,1020.4 L1204.7,1025.9 L1203.0,1031.5 L1201.3,1037.0 L1199.7,1042.6 L1198.1,1048.1 L1196.5,1053.7 L1195.0,1059.3 L1193.5,1064.8 L1192.1,1070.4 L1190.7,1075.9 L1189.3,1081.5 L1187.9,1087.0 L1186.6,1092.6 L1185.3,1098.2 L1184.1,1103.7 L1182.9,1109.3 L1181.7,1114.8 L1180.5,1120.4 L1179.3,1125.9 L1178.2,1131.5 L1177.1,1137.0 L1176.0,1142.6" fill="none" stroke="#0000ff" stroke-width="4" stroke-linejoin="round"/>
<line x1="1448.2" y1="1015.7" x2="1499.6" y2="1015.7" stroke="#ff0000" stroke-width="4.2"/>
<line x1="1448.2" y1="1045.9" x2="1499.6" y2="1045.9" stroke="#0000ff" stroke-width="4.2"/>
<text x="1511.4" y="1023.8" font-size="27.2">Edge line</text>
<text x="1511.4" y="1054.4" font-size="27.2">Middle line</text>
</svg>
</body></html>
